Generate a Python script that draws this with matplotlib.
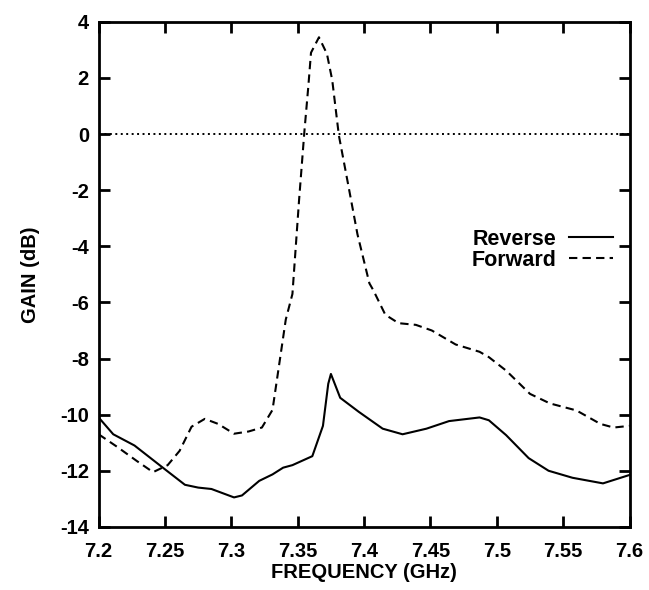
import matplotlib
matplotlib.use("Agg")
import matplotlib.pyplot as plt

plt.rcParams['font.family'] = ['Liberation Sans', 'DejaVu Sans']
plt.rcParams['font.weight'] = 'bold'
plt.rcParams['axes.unicode_minus'] = False

# Reverse gain (solid)
rev_freq = [7.200, 7.211, 7.227, 7.250, 7.265, 7.275, 7.285, 7.302, 7.308, 7.321,
            7.331, 7.339, 7.346, 7.361, 7.369, 7.373, 7.375, 7.382, 7.396, 7.414,
            7.429, 7.447, 7.464, 7.487, 7.494, 7.507, 7.524, 7.539, 7.557, 7.580, 7.600]
rev_gain = [-10.1, -10.7, -11.1, -11.95, -12.5, -12.6, -12.65, -12.95, -12.88, -12.36,
            -12.13, -11.89, -11.8, -11.48, -10.4, -8.9, -8.55, -9.4, -9.9, -10.5,
            -10.7, -10.5, -10.23, -10.1, -10.2, -10.73, -11.55, -12.0, -12.25, -12.45, -12.15]

# Forward gain (dashed)
fwd_freq = [7.200, 7.214, 7.229, 7.241, 7.252, 7.261, 7.270, 7.280, 7.290, 7.302,
            7.313, 7.323, 7.331, 7.336, 7.341, 7.346, 7.351, 7.355, 7.358, 7.360,
            7.366, 7.372, 7.376, 7.381, 7.388, 7.395, 7.404, 7.407, 7.416, 7.426,
            7.439, 7.451, 7.469, 7.487, 7.494, 7.507, 7.525, 7.540, 7.560, 7.578,
            7.588, 7.600]
fwd_gain = [-10.7, -11.15, -11.66, -12.05, -11.8, -11.29, -10.43, -10.15, -10.33, -10.68,
            -10.6, -10.46, -9.83, -8.22, -6.61, -5.7, -2.36, 0.08, 1.71, 2.9,
            3.45, 2.86, 1.92, -0.05, -1.8, -3.57, -5.32, -5.57, -6.44, -6.74,
            -6.8, -7.0, -7.5, -7.76, -7.95, -8.43, -9.26, -9.6, -9.85, -10.33,
            -10.46, -10.4]

x_ticks = [7.2, 7.25, 7.3, 7.35, 7.4, 7.45, 7.5, 7.55, 7.6]
x_labels = ['7.2', '7.25', '7.3', '7.35', '7.4', '7.45', '7.5', '7.55', '7.6']
y_ticks = [-14, -12, -10, -8, -6, -4, -2, 0, 2, 4]

fig = plt.figure(figsize=(6.49, 5.90), dpi=100)
ax = fig.add_axes([0.152, 0.107, 0.818, 0.856])

ax.plot(rev_freq, rev_gain, color='black', linewidth=1.5, label='Reverse')
ax.plot(fwd_freq, fwd_gain, color='black', linewidth=1.5, linestyle=(0, (4, 2.5)), label='Forward')
ax.axhline(0, color='black', linewidth=1.4, linestyle=(0, (1, 1.8)))

ax.set_xlim(7.2, 7.6)
ax.set_ylim(-14, 4)
ax.set_xticks(x_ticks)
ax.set_xticklabels(x_labels)
ax.set_yticks(y_ticks)

for s in ax.spines.values():
    s.set_linewidth(2)
ax.tick_params(direction='in', length=8, width=2, top=True, right=True, labelsize=14.5)
ax.tick_params(axis='x', pad=11)
ax.tick_params(axis='y', pad=7)

ax.set_xlabel('FREQUENCY (GHz)', fontsize=14.5, fontweight='bold', labelpad=1)
ax.set_ylabel('GAIN (dB)', fontsize=14.5, fontweight='bold', labelpad=14)

ax.legend(loc='upper right', bbox_to_anchor=(0.968, 0.59), frameon=False,
          markerfirst=False, handlelength=2.0, handletextpad=0.6, labelspacing=0.0,
          borderpad=0, borderaxespad=0, prop={'size': 15.5, 'weight': 'bold'})

fig.savefig('out.png', dpi=100)
